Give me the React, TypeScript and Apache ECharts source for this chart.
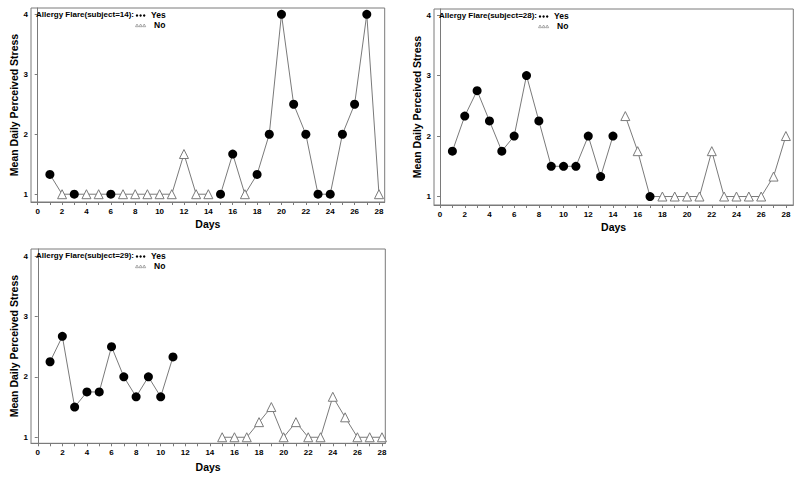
import React, { useEffect, useRef } from "react";
import * as echarts from "echarts";

const days = [1, 2, 3, 4, 5, 6, 7, 8, 9, 10, 11, 12, 13, 14, 15, 16, 17, 18, 19, 20, 21, 22, 23, 24, 25, 26, 27, 28];

const stress14 = [1.33, 1, 1, 1, 1, 1, 1, 1, 1, 1, 1, 1.67, 1, 1, 1, 1.67, 1, 1.33, 2, 4, 2.5, 2, 1, 1, 2, 2.5, 4, 1];
const flare14 = ["Y", "N", "Y", "N", "N", "Y", "N", "N", "N", "N", "N", "N", "N", "N", "Y", "Y", "N", "Y", "Y", "Y", "Y", "Y", "Y", "Y", "Y", "Y", "Y", "N"];

const stress28 = [1.75, 2.33, 2.75, 2.25, 1.75, 2, 3, 2.25, 1.5, 1.5, 1.5, 2, 1.33, 2, 2.33, 1.75, 1, 1, 1, 1, 1, 1.75, 1, 1, 1, 1, 1.33, 2];
const flare28 = ["Y", "Y", "Y", "Y", "Y", "Y", "Y", "Y", "Y", "Y", "Y", "Y", "Y", "Y", "N", "N", "Y", "N", "N", "N", "N", "N", "N", "N", "N", "N", "N", "N"];

const stress29 = [2.25, 2.67, 1.5, 1.75, 1.75, 2.5, 2, 1.67, 2, 1.67, 2.33, null, null, null, 1, 1, 1, 1.25, 1.5, 1, 1.25, 1, 1, 1.67, 1.33, 1, 1, 1];
const flare29 = ["Y", "Y", "Y", "Y", "Y", "Y", "Y", "Y", "Y", "Y", "Y", null, null, null, "N", "N", "N", "N", "N", "N", "N", "N", "N", "N", "N", "N", "N", "N"];

const xTickLabels = [0, 2, 4, 6, 8, 10, 12, 14, 16, 18, 20, 22, 24, 26, 28];
const xMinorTicks = [0, 1, 2, 3, 4, 5, 6, 7, 8, 9, 10, 11, 12, 13, 14, 15, 16, 17, 18, 19, 20, 21, 22, 23, 24, 25, 26, 27, 28];
const yTickLabels = [1, 2, 3, 4];

const subjects = [14, 28, 29];
const stressBySubject = [stress14, stress28, stress29];
const flareBySubject = [flare14, flare28, flare29];
const phaseBreakDay = 14;

const panels = [
  { left: 31, top: 8, width: 353.7, height: 194, xMin: -0.55, xMax: 28.47, yMin: 0.87, yMax: 4.105, nameGapX: 16, nameGapY: 12 },
  { left: 434, top: 9, width: 359.3, height: 196, xMin: -0.49, xMax: 28.6, yMin: 0.86, yMax: 4.1, nameGapX: 16, nameGapY: 10 },
  { left: 31, top: 249, width: 354.3, height: 194.3, xMin: -0.55, xMax: 28.27, yMin: 0.9, yMax: 4.116, nameGapX: 18, nameGapY: 12 },
];

const FONT = "'Liberation Sans', Arial, sans-serif";
const GRAY = "#7a7a7a";

export default function App() {
  const ref = useRef<HTMLDivElement>(null);
  useEffect(() => {
    if (!ref.current) return;
    const chart = echarts.init(ref.current, null, { renderer: "svg" });

    const grid: any[] = [];
    const xAxis: any[] = [];
    const yAxis: any[] = [];
    const series: any[] = [];
    const graphic: any[] = [];

    panels.forEach((p, i) => {
      grid.push({ left: p.left, top: p.top, width: p.width, height: p.height, show: true, borderColor: GRAY, borderWidth: 1, backgroundColor: "#fff" });
      xAxis.push({
        type: "value", gridIndex: i, min: p.xMin, max: p.xMax,
        name: "Days", nameLocation: "middle", nameGap: p.nameGapX,
        nameTextStyle: { fontFamily: FONT, fontWeight: "bold", fontSize: 10.5, color: "#000" },
        axisLine: { show: true, lineStyle: { color: GRAY } },
        axisTick: { show: true, length: 3, lineStyle: { color: GRAY }, customValues: xMinorTicks },
        axisLabel: { fontFamily: FONT, fontWeight: "bold", fontSize: 8, color: "#000", margin: 5, customValues: xTickLabels },
        splitLine: { show: false },
      });
      yAxis.push({
        type: "value", gridIndex: i, min: p.yMin, max: p.yMax,
        name: "Mean Daily Perceived Stress", nameLocation: "middle", nameGap: p.nameGapY,
        nameTextStyle: { fontFamily: FONT, fontWeight: "bold", fontSize: 10.5, color: "#000" },
        axisLine: { show: true, lineStyle: { color: GRAY } },
        axisTick: { show: true, length: 3, lineStyle: { color: GRAY }, customValues: yTickLabels },
        axisLabel: { fontFamily: FONT, fontWeight: "bold", fontSize: 8, color: "#000", margin: 3, customValues: yTickLabels },
        splitLine: { show: false },
      });

      const st = stressBySubject[i];
      const fl = flareBySubject[i];
      const seg1: any[] = [];
      const seg2: any[] = [];
      const yes: any[] = [];
      const no: any[] = [];
      days.forEach((d, k) => {
        const v = st[k];
        if (v === null || v === undefined) return;
        if (d <= phaseBreakDay) seg1.push([d, v]);
        else seg2.push([d, v]);
        if (fl[k] === "Y") yes.push([d, v]);
        else no.push([d, v]);
      });
      [seg1, seg2].forEach((seg) => {
        series.push({
          type: "line", xAxisIndex: i, yAxisIndex: i, data: seg, symbol: "none",
          lineStyle: { color: GRAY, width: 1 }, silent: true, z: 2,
        });
      });
      series.push({
        type: "scatter", xAxisIndex: i, yAxisIndex: i, data: yes, symbol: "circle", symbolSize: 9,
        itemStyle: { color: "#000", opacity: 1 }, z: 3,
      });
      series.push({
        type: "scatter", xAxisIndex: i, yAxisIndex: i, data: no, symbol: "triangle", symbolSize: 9,
        itemStyle: { color: "#fff", borderColor: GRAY, borderWidth: 1, opacity: 1 }, z: 3,
      });

      // legend
      const lx = p.left + 5;
      const ly1 = p.top + 7.5;
      const ly2 = p.top + 17.5;
      graphic.push({
        type: "text", left: lx, top: ly1 - 5, z: 10,
        style: { text: `Allergy Flare(subject=${subjects[i]}):`, font: `bold 8px ${FONT}`, fill: "#000" },
      });
      const mx = lx + 101;
      for (let k = 0; k < 3; k++) {
        graphic.push({ type: "circle", z: 10, shape: { cx: mx + k * 3.6, cy: ly1, r: 1.2 }, style: { fill: "#000" } });
        const tx = mx + k * 3.6;
        graphic.push({
          type: "polygon", z: 10,
          shape: { points: [[tx, ly2 - 1.5], [tx - 1.5, ly2 + 1.2], [tx + 1.5, ly2 + 1.2]] },
          style: { fill: "#fff", stroke: GRAY, lineWidth: 0.6 },
        });
      }
      graphic.push({
        type: "text", left: mx + 14, top: ly1 - 5, z: 10,
        style: { text: "Yes", font: `bold 8.5px ${FONT}`, fill: "#000" },
      });
      graphic.push({
        type: "text", left: mx + 17, top: ly2 - 5, z: 10,
        style: { text: "No", font: `bold 8.5px ${FONT}`, fill: "#000" },
      });
    });

    chart.setOption({
      animation: false,
      backgroundColor: "#fff",
      grid, xAxis, yAxis, series, graphic,
    });
    return () => chart.dispose();
  }, []);
  return <div ref={ref} style={{ width: 800, height: 482, position: "absolute", left: 0, top: 0 }} />;
}
